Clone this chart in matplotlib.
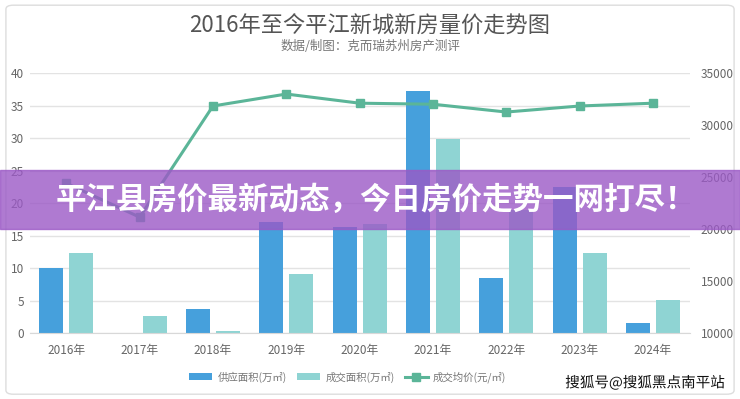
import matplotlib.pyplot as plt
import matplotlib.patheffects as pe
from matplotlib.patches import Rectangle, FancyBboxPatch
import numpy as np

plt.rcParams['font.family'] = ['Noto Sans CJK SC', 'DejaVu Sans']

# data
years = ['2016年', '2017年', '2018年', '2019年', '2020年', '2021年', '2022年', '2023年', '2024年']
supply_area = [10.0, 0.0, 3.7, 17.1, 16.4, 37.2, 8.5, 22.4, 1.6]    # 供应面积 (万㎡)
deal_area = [12.3, 2.6, 0.3, 9.1, 16.8, 29.9, 19.0, 12.3, 5.1]      # 成交面积 (万㎡)
avg_price = [24400, 21150, 31830, 32980, 32100, 32000, 31250, 31830, 32100]  # 成交均价 (元/㎡)

fig = plt.figure(figsize=(7.40, 3.99), dpi=100)

# light frame round the whole card
fig.patches.append(FancyBboxPatch((0.008, 0.012), 0.984, 0.975, boxstyle='round,pad=0,rounding_size=0.01',
                                  transform=fig.transFigure, fill=False, edgecolor='#dddddd', lw=1))

ax = fig.add_axes([0.04, 0.165, 0.892, 0.652])
ax2 = ax.twinx()

x = np.arange(len(years))
w = 0.33
ax.bar(x - 0.205, supply_area, w, color='#46a0dc', label='供应面积(万㎡)', zorder=2)
ax.bar(x + 0.205, deal_area, w, color='#8fd4d3', label='成交面积(万㎡)', zorder=2)
ax2.plot(x, avg_price, color='#5bb598', lw=2.2, marker='s', ms=6, label='成交均价(元/㎡)', zorder=3)

ax.set_xlim(-0.5, 8.5)
ax.set_ylim(0, 40)
ax.set_yticks(range(0, 41, 5))
ax2.set_ylim(10000, 35000)
ax2.set_yticks(range(10000, 35001, 5000))
ax.set_xticks(x)
ax.set_xticklabels(years)
ax.grid(axis='y', color='#e3e3e3', lw=1, zorder=0)
ax.set_axisbelow(True)

for a in (ax, ax2):
    for s in a.spines.values():
        s.set_visible(False)
    a.tick_params(length=0, colors='#666666', labelsize=8.5)
ax.spines['bottom'].set_visible(True)
ax.spines['bottom'].set_color('#d8d8d8')
ax.tick_params(axis='x', pad=8)
ax.tick_params(axis='y', pad=4)
ax2.tick_params(axis='y', pad=8)

fig.text(0.5, 0.935, '2016年至今平江新城新房量价走势图', ha='center', va='center', fontsize=16, color='#555555')
fig.text(0.5, 0.884, '数据/制图：克而瑞苏州房产测评', ha='center', va='center', fontsize=9, color='#777777')

h1, l1 = ax.get_legend_handles_labels()
h2, l2 = ax2.get_legend_handles_labels()
fig.legend(h1 + h2, l1 + l2, loc='center', bbox_to_anchor=(0.47, 0.055), ncol=3, frameon=False,
           fontsize=7.5, labelcolor='#777777', handlelength=2.2, handletextpad=0.5, columnspacing=1.0)

# purple banner across the middle
fig.patches.append(Rectangle((0, 0.426), 1, 0.148, transform=fig.transFigure,
                             color='#9b59c6', alpha=0.8, zorder=5))
fig.text(0.508, 0.50, '平江县房价最新动态，今日房价走势一网打尽！', ha='center', va='center',
         fontsize=22, fontweight='bold', color='white', zorder=6)

# watermark
fig.text(0.872, 0.04, '搜狐号@搜狐黑点南平站', ha='center', va='center', fontsize=10.5, color='#111111',
         fontweight='medium', path_effects=[pe.withStroke(linewidth=3, foreground='white')], zorder=6)

fig.savefig('out.png', dpi=100)
